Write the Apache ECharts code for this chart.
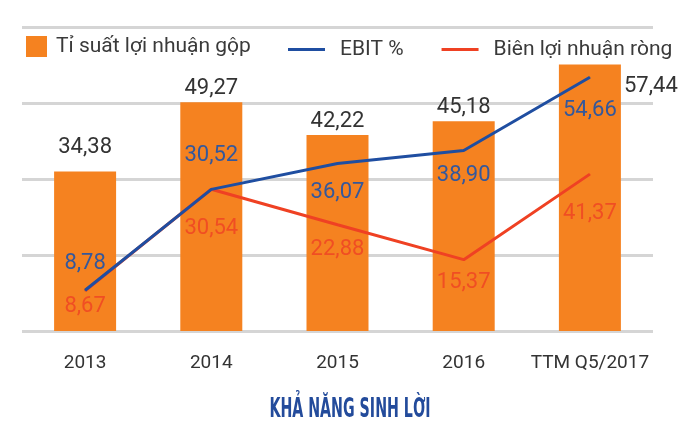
<!DOCTYPE html>
<html>
<head>
<meta charset="utf-8">
<script src="https://cdn.jsdelivr.net/npm/echarts@6/dist/echarts.min.js"></script>
<style>
  html, body { margin: 0; padding: 0; background: #fff; }
  #main { width: 680px; height: 422px; }
</style>
</head>
<body>
<div id="main"></div>
<script>
// categories and values
var categories = ['2013', '2014', '2015', '2016', 'TTM Q5/2017'];
var grossMargin = [34.38, 49.27, 42.22, 45.18, 57.44];
var ebit = [8.78, 30.52, 36.07, 38.90, 54.66];
// last net point is drawn lower than its label says in the picture
var netMargin = [8.67, 30.54, 22.88, 15.37, 33.8];
var netLabels = ['8,67', '30,54', '22,88', '15,37', '41,37'];

var font = 'Roboto';
function fmt(v) { return v.toFixed(2).replace('.', ','); }

var myChart = echarts.init(document.getElementById('main'));

// label nudges (px), per point
var barLabelOffset = [-10, 0, 0, 0, 0];
var ebitLabelDy = [-27, -34, 29, 25, 33];
var netLabelDy = [16, 39, 25, 23, 39];

var lineIcon = 'path://M0,0h37v3h-37z';

var option = {
    animation: false,
    grid: { left: 22, right: 27, top: 27, bottom: 91 },
    legend: [{
        data: ['Tỉ suất lợi nhuận gộp'],
        left: 21, top: 31,
        itemWidth: 21, itemHeight: 21,
        icon: 'rect',
        textStyle: { fontFamily: font, fontSize: 21, color: '#3a3a3a', padding: [5, 0, 0, 4] }
    }, {
        data: [{ name: 'EBIT %', icon: lineIcon }, { name: 'Biên lợi nhuận ròng', icon: lineIcon }],
        left: 283, top: 34,
        itemWidth: 37, itemHeight: 21, itemGap: 38,
        textStyle: { fontFamily: font, fontSize: 21, color: '#3a3a3a', padding: [2, 0, 0, 10] }
    }],
    xAxis: {
        type: 'category',
        data: categories,
        axisLine: { show: false },
        axisTick: { show: false },
        axisLabel: { interval: 0, fontFamily: font, fontSize: 19, color: '#333', margin: 23 }
    },
    yAxis: {
        type: 'value',
        min: 0, max: 65.5, interval: 16.375,
        axisLabel: { show: false },
        splitLine: { lineStyle: { color: '#d5d5d5', width: 3 } }
    },
    graphic: [{
        type: 'text',
        x: 350, y: 410,
        scaleX: 0.585,
        style: {
            text: 'KHẢ NĂNG SINH LỜI',
            x: 0, y: 0,
            align: 'center', verticalAlign: 'middle',
            font: 'bold 27px "DejaVu Sans Condensed"',
            fill: '#234b9b'
        }
    }],
    series: [{
        name: 'Tỉ suất lợi nhuận gộp',
        type: 'bar',
        barWidth: 62,
        itemStyle: { color: '#f58220' },
        data: grossMargin.map(function (v, i) {
            var lab = {
                show: true, formatter: fmt(v),
                fontFamily: font, fontSize: 22, color: '#333',
                position: 'top', distance: 3, offset: [0, barLabelOffset[i]]
            };
            if (i === grossMargin.length - 1) {
                lab.position = [92, 22];
                lab.align = 'center';
                lab.verticalAlign = 'middle';
            }
            return { value: v, label: lab };
        })
    }, {
        name: 'EBIT %',
        type: 'line',
        symbol: 'circle', symbolSize: 1,
        lineStyle: { color: '#1f4ea1', width: 3 },
        itemStyle: { color: '#1f4ea1' },
        z: 4,
        data: ebit.map(function (v, i) {
            return { value: v, label: {
                show: true, formatter: fmt(v), position: 'inside',
                offset: [0, ebitLabelDy[i]],
                fontFamily: font, fontSize: 22, color: '#34589c'
            } };
        })
    }, {
        name: 'Biên lợi nhuận ròng',
        type: 'line',
        symbol: 'circle', symbolSize: 1,
        lineStyle: { color: '#ef4123', width: 3 },
        itemStyle: { color: '#ef4123' },
        z: 3,
        data: netMargin.map(function (v, i) {
            return { value: v, label: {
                show: true, formatter: netLabels[i], position: 'inside',
                offset: [0, netLabelDy[i]],
                fontFamily: font, fontSize: 22, color: '#f04e23'
            } };
        })
    }]
};
myChart.setOption(option);
</script>
</body>
</html>
